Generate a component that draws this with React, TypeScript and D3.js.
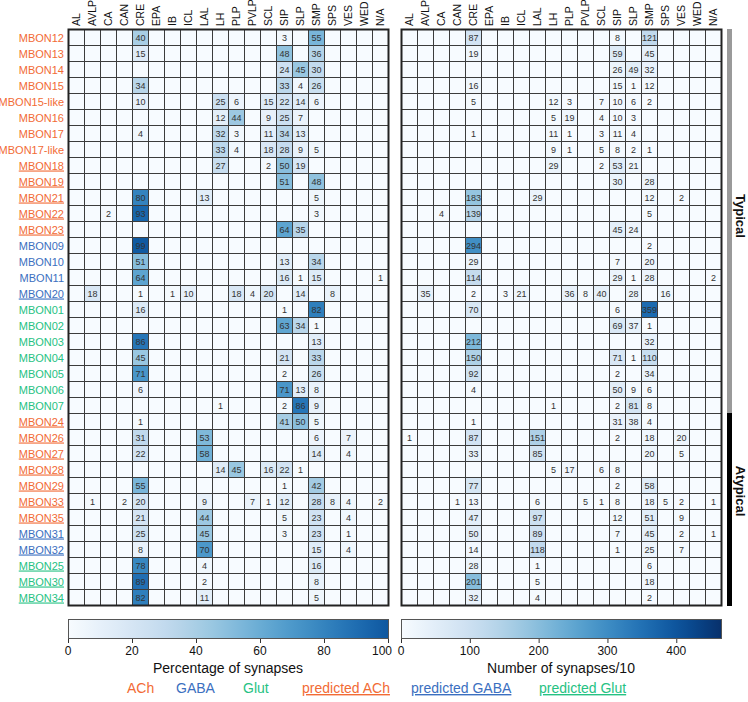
import React from "react";
import * as d3 from "d3";

// neuropil columns
const regions = ["AL", "AVLP", "CA", "CAN", "CRE", "EPA", "IB", "ICL", "LAL", "LH", "PLP", "PVLP", "SCL", "SIP", "SLP", "SMP", "SPS", "VES", "WED", "N/A"];

const mbons = [
  "MBON12", "MBON13", "MBON14", "MBON15", "MBON15-like", "MBON16", "MBON17", "MBON17-like",
  "MBON18", "MBON19", "MBON21", "MBON22", "MBON23", "MBON09", "MBON10", "MBON11", "MBON20",
  "MBON01", "MBON02", "MBON03", "MBON04", "MBON05", "MBON06", "MBON07", "MBON24",
  "MBON26", "MBON27", "MBON28", "MBON29", "MBON33", "MBON35", "MBON31", "MBON32",
  "MBON25", "MBON30", "MBON34",
];

const transmitter = [
  "ACh", "ACh", "ACh", "ACh", "ACh", "ACh", "ACh", "ACh",
  "ACh", "ACh", "ACh", "ACh", "ACh", "GABA", "GABA", "GABA", "GABA",
  "Glut", "Glut", "Glut", "Glut", "Glut", "Glut", "Glut", "ACh",
  "ACh", "ACh", "ACh", "ACh", "ACh", "ACh", "GABA", "GABA",
  "Glut", "Glut", "Glut",
];

const predicted = [
  "MBON18", "MBON19", "MBON21", "MBON22", "MBON23", "MBON20", "MBON24",
  "MBON26", "MBON27", "MBON28", "MBON29", "MBON33", "MBON35", "MBON31", "MBON32",
  "MBON25", "MBON30", "MBON34",
];

// percentage of synapses per neuropil
const pct: Record<string, number>[] = [
  { CRE: 40, SIP: 3, SMP: 55 },
  { CRE: 15, SIP: 48, SMP: 36 },
  { SIP: 24, SLP: 45, SMP: 30 },
  { CRE: 34, SIP: 33, SLP: 4, SMP: 26 },
  { CRE: 10, LH: 25, PLP: 6, SCL: 15, SIP: 22, SLP: 14, SMP: 6 },
  { LH: 12, PLP: 44, SCL: 9, SIP: 25, SLP: 7 },
  { CRE: 4, LH: 32, PLP: 3, SCL: 11, SIP: 34, SLP: 13 },
  { LH: 33, PLP: 4, SCL: 18, SIP: 28, SLP: 9, SMP: 5 },
  { LH: 27, SCL: 2, SIP: 50, SLP: 19 },
  { SIP: 51, SMP: 48 },
  { CRE: 80, LAL: 13, SMP: 5 },
  { CA: 2, CRE: 93, SMP: 3 },
  { SIP: 64, SLP: 35 },
  { CRE: 99 },
  { CRE: 51, SIP: 13, SMP: 34 },
  { CRE: 64, SIP: 16, SLP: 1, SMP: 15, "N/A": 1 },
  { AVLP: 18, CRE: 1, IB: 1, ICL: 10, PLP: 18, PVLP: 4, SCL: 20, SLP: 14, SPS: 8 },
  { CRE: 16, SIP: 1, SMP: 82 },
  { SIP: 63, SLP: 34, SMP: 1 },
  { CRE: 86, SMP: 13 },
  { CRE: 45, SIP: 21, SMP: 33 },
  { CRE: 71, SIP: 2, SMP: 26 },
  { CRE: 6, SIP: 71, SLP: 13, SMP: 8 },
  { LH: 1, SIP: 2, SLP: 86, SMP: 9 },
  { CRE: 1, SIP: 41, SLP: 50, SMP: 5 },
  { CRE: 31, LAL: 53, SMP: 6, VES: 7 },
  { CRE: 22, LAL: 58, SMP: 14, VES: 4 },
  { LH: 14, PLP: 45, SCL: 16, SIP: 22, SLP: 1 },
  { CRE: 55, SIP: 1, SMP: 42 },
  { AVLP: 1, CAN: 2, CRE: 20, LAL: 9, PVLP: 7, SCL: 1, SIP: 12, SMP: 28, SPS: 8, VES: 4, "N/A": 2 },
  { CRE: 21, LAL: 44, SIP: 5, SMP: 23, VES: 4 },
  { CRE: 25, LAL: 45, SIP: 3, SMP: 23, VES: 1 },
  { CRE: 8, LAL: 70, SMP: 15, VES: 4 },
  { CRE: 78, LAL: 4, SMP: 16 },
  { CRE: 89, LAL: 2, SMP: 8 },
  { CRE: 82, LAL: 11, SMP: 5 },
];

// number of synapses / 10
const counts: Record<string, number>[] = [
  { CRE: 87, SIP: 8, SMP: 121 },
  { CRE: 19, SIP: 59, SMP: 45 },
  { SIP: 26, SLP: 49, SMP: 32 },
  { CRE: 16, SIP: 15, SLP: 1, SMP: 12 },
  { CRE: 5, LH: 12, PLP: 3, SCL: 7, SIP: 10, SLP: 6, SMP: 2 },
  { LH: 5, PLP: 19, SCL: 4, SIP: 10, SLP: 3 },
  { CRE: 1, LH: 11, PLP: 1, SCL: 3, SIP: 11, SLP: 4 },
  { LH: 9, PLP: 1, SCL: 5, SIP: 8, SLP: 2, SMP: 1 },
  { LH: 29, SCL: 2, SIP: 53, SLP: 21 },
  { SIP: 30, SMP: 28 },
  { CRE: 183, LAL: 29, SMP: 12, VES: 2 },
  { CA: 4, CRE: 139, SMP: 5 },
  { SIP: 45, SLP: 24 },
  { CRE: 294, SMP: 2 },
  { CRE: 29, SIP: 7, SMP: 20 },
  { CRE: 114, SIP: 29, SLP: 1, SMP: 28, "N/A": 2 },
  { AVLP: 35, CRE: 2, IB: 3, ICL: 21, PLP: 36, PVLP: 8, SCL: 40, SLP: 28, SPS: 16 },
  { CRE: 70, SIP: 6, SMP: 359 },
  { SIP: 69, SLP: 37, SMP: 1 },
  { CRE: 212, SMP: 32 },
  { CRE: 150, SIP: 71, SLP: 1, SMP: 110 },
  { CRE: 92, SIP: 2, SMP: 34 },
  { CRE: 4, SIP: 50, SLP: 9, SMP: 6 },
  { LH: 1, SIP: 2, SLP: 81, SMP: 8 },
  { CRE: 1, SIP: 31, SLP: 38, SMP: 4 },
  { AL: 1, CRE: 87, LAL: 151, SIP: 2, SMP: 18, VES: 20 },
  { CRE: 33, LAL: 85, SMP: 20, VES: 5 },
  { LH: 5, PLP: 17, SCL: 6, SIP: 8 },
  { CRE: 77, SIP: 2, SMP: 58 },
  { CAN: 1, CRE: 13, LAL: 6, PVLP: 5, SCL: 1, SIP: 8, SMP: 18, SPS: 5, VES: 2, "N/A": 1 },
  { CRE: 47, LAL: 97, SIP: 12, SMP: 51, VES: 9 },
  { CRE: 50, LAL: 89, SIP: 7, SMP: 45, VES: 2, "N/A": 1 },
  { CRE: 14, LAL: 118, SIP: 1, SMP: 25, VES: 7 },
  { CRE: 28, LAL: 1, SMP: 6 },
  { CRE: 201, LAL: 5, SMP: 18 },
  { CRE: 32, LAL: 4, SMP: 2 },
];

const pctTicks = [0, 20, 40, 60, 80, 100];
const countTicks = [0, 100, 200, 300, 400];
const legendItems = ["ACh", "GABA", "Glut", "predicted ACh", "predicted GABA", "predicted Glut"];
const groups = [
  { label: "Typical", first: "MBON12", last: "MBON07" },
  { label: "Atypical", first: "MBON24", last: "MBON34" },
];

const ntColor: Record<string, string> = { ACh: "#f26b35", GABA: "#3b6fc0", Glut: "#26c283" };
const font = "'Liberation Sans', Arial, sans-serif";

const W = 748, H = 702;
const top = 29, rowH = 16;
const y = d3.scaleBand<string>().domain(mbons).range([top, top + rowH * mbons.length]);
const xLeft = d3.scaleBand<string>().domain(regions).range([68, 388]);
const xRight = d3.scaleBand<string>().domain(regions).range([401, 721]);

const pctColor = (v: number) => d3.interpolateBlues(0.85 * v / 100);
const countColor = d3.scaleSequential(d3.interpolateBlues).domain([0, 465]);

const Heatmap = ({ x, data, color }: { x: d3.ScaleBand<string>; data: Record<string, number>[]; color: (v: number) => string }) => {
  const [x0, x1] = x.range();
  const [y0, y1] = y.range();
  return (
    <g>
      {mbons.map((m, i) =>
        regions.map((r) => {
          const v = data[i][r];
          return (
            <g key={m + r}>
              <rect x={x(r)! + 0.5} y={y(m)! + 0.5} width={x.bandwidth()} height={y.bandwidth()}
                fill={color(v ?? 0)} stroke="#3c3c3c" strokeWidth={1} />
              {v !== undefined && (
                <text x={x(r)! + x.bandwidth() / 2 + 0.5} y={y(m)! + y.bandwidth() / 2 + 3.5}
                  textAnchor="middle" fontSize={9} fill="#333">{v}</text>
              )}
            </g>
          );
        })
      )}
      <rect x={x0 + 0.5} y={y0 + 0.5} width={x1 - x0} height={y1 - y0} fill="none" stroke="#222" strokeWidth={2} />
      {regions.map((r) => (
        <text key={r} transform={`translate(${x(r)! + x.bandwidth() / 2 + 4},26) rotate(-90)`}
          textAnchor="start" fontSize={10.5} fill="#111">{r}</text>
      ))}
    </g>
  );
};

const ColorBar = ({ id, domain, ticks, color, title, x0, x1 }:
  { id: string; domain: [number, number]; ticks: number[]; color: (v: number) => string; title: string; x0: number; x1: number }) => {
  const s = d3.scaleLinear().domain(domain).range([x0, x1]);
  const stops = d3.range(0, 1.0001, 0.05);
  return (
    <g>
      <defs>
        <linearGradient id={id} x1="0" x2="1" y1="0" y2="0">
          {stops.map((t) => (
            <stop key={t} offset={t} stopColor={color(domain[0] + t * (domain[1] - domain[0]))} />
          ))}
        </linearGradient>
      </defs>
      <rect x={x0 + 0.5} y={619.5} width={x1 - x0} height={19} fill={`url(#${id})`} stroke="#555" strokeWidth={1} />
      {ticks.map((t) => {
        const atEnd = s(t) >= x1 - 1;
        return (
          <g key={t}>
            <line x1={s(t) + 0.5} x2={s(t) + 0.5} y1={639} y2={643} stroke="#333" />
            <text x={atEnd ? s(t) + 4 : s(t)} y={655} textAnchor={atEnd ? "end" : "middle"} fontSize={12} fill="#111">{t}</text>
          </g>
        );
      })}
      <text x={(x0 + x1) / 2} y={673} textAnchor="middle" fontSize={14} fill="#111">{title}</text>
    </g>
  );
};

export default function App() {
  const legendX = [127, 176, 243, 302, 411, 539];
  return (
    <svg width={W} height={H} style={{ display: "block", position: "absolute", left: 0, top: 0, fontFamily: font }}>
      <rect width={W} height={H} fill="#fff" />
      {mbons.map((m, i) => (
        <text key={m} x={64} y={y(m)! + y.bandwidth() / 2 + 4.5} textAnchor="end" fontSize={11}
          fill={ntColor[transmitter[i]]} style={{ textDecoration: predicted.includes(m) ? "underline" : "none" }}>{m}</text>
      ))}
      <Heatmap x={xLeft} data={pct} color={pctColor} />
      <Heatmap x={xRight} data={counts} color={(v) => countColor(v)} />
      {groups.map((g, gi) => {
        const ya = y(g.first)!, yb = y(g.last)! + y.bandwidth() + (gi === 1 ? 1 : 0);
        const textY = gi === 0 ? 216 : 491;
        return (
          <g key={g.label}>
            <rect x={727} y={ya} width={5} height={yb - ya} fill={gi === 0 ? "#9a9a9a" : "#000"} />
            <text transform={`translate(736,${textY}) rotate(90)`} textAnchor="middle" fontSize={13}
              fontWeight="bold" fill="#111">{g.label}</text>
          </g>
        );
      })}
      <ColorBar id="gPct" domain={[0, 100]} ticks={pctTicks} color={pctColor} title="Percentage of synapses" x0={68} x1={388} />
      <ColorBar id="gCnt" domain={[0, 465]} ticks={countTicks} color={(v) => countColor(v)} title="Number of synapses/10" x0={401} x1={721} />
      {legendItems.map((l, i) => {
        const nt = l.replace("predicted ", "");
        return (
          <text key={l} x={legendX[i]} y={693} fontSize={14} fill={ntColor[nt]}
            style={{ textDecoration: l.startsWith("predicted") ? "underline" : "none" }}>{l}</text>
        );
      })}
    </svg>
  );
}
